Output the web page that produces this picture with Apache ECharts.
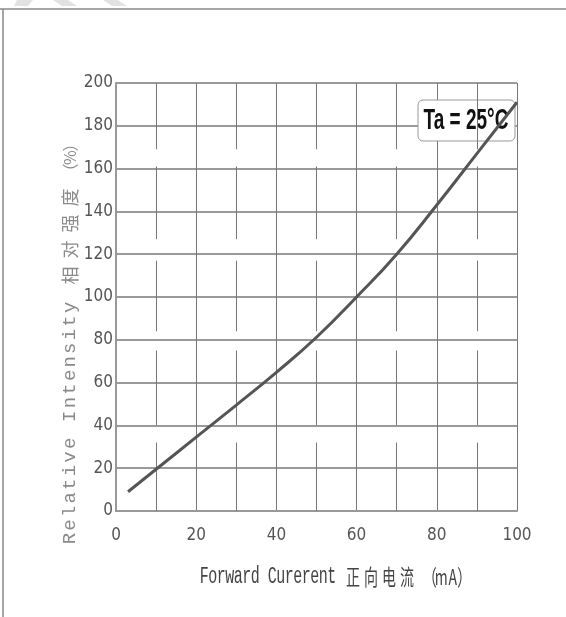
<!DOCTYPE html>
<html>
<head>
<meta charset="utf-8">
<script src="https://cdn.jsdelivr.net/npm/echarts@6/dist/echarts.min.js"></script>
<style>
  html, body { margin: 0; padding: 0; background: #fff; }
  #chart { width: 566px; height: 617px; }
</style>
</head>
<body>
<div id="chart"></div>
<script>
// Forward current (mA) vs. relative luminous intensity (%), Ta = 25°C
const forwardCurrent = [3, 10, 20, 30, 40, 50, 60, 70, 80, 90, 100];
const relativeIntensity = [9, 19.5, 34.5, 49.5, 64.8, 81.2, 100, 120, 143, 167, 191];
const xTicks = [0, 20, 40, 60, 80, 100];
const yTicks = [0, 20, 40, 60, 80, 100, 120, 140, 160, 180, 200];
const minorCurrentLines = [10, 30, 50, 70, 90];
const conditionText = 'Ta = 25°C';
const xTitle = { latin: 'Forward Curerent', cjk: '正向电流', unit: '（mA）' };
const yTitle = { latin: 'Relative Intensity', cjk: '相对强度', unit: '（%）' };

// broken runs of the odd-ten vertical rules (value ranges along the y axis)
const minorRuns = [[200, 169], [161, 127], [117, 84], [75, 40], [32, 0]];

const chart = echarts.init(document.getElementById('chart'), null, { renderer: 'canvas' });

const GRID = { left: 116, right: 49, top: 83, bottom: 106 };
const TICK_FONT = '"DejaVu Sans Condensed", "Liberation Sans Narrow", "Liberation Sans", sans-serif';

function perChar(str, style) {
  return str.split('').map(ch => `{${style}|${ch}}`).join('');
}

const minorSegments = [];
minorCurrentLines.forEach(x => {
  minorRuns.forEach(r => {
    minorSegments.push([{ coord: [x, r[0]] }, { coord: [x, r[1]] }]);
  });
});

const option = {
  animation: false,
  backgroundColor: '#ffffff',
  grid: GRID,
  xAxis: {
    type: 'value',
    min: 0, max: 100, interval: 20,
    axisLine: { show: true, lineStyle: { color: '#999', width: 2 } },
    axisTick: { show: false },
    axisLabel: {
      color: '#555', fontFamily: TICK_FONT,
      fontSize: 17, margin: 16,
      formatter: v => (xTicks.indexOf(v) >= 0 ? String(v) : '')
    },
    splitLine: { show: true, lineStyle: { color: '#777', width: 1 } }
  },
  yAxis: {
    type: 'value',
    min: 0, max: 200, interval: 20,
    axisLine: { show: true, lineStyle: { color: '#999', width: 2 } },
    axisTick: { show: false },
    axisLabel: {
      color: '#555', fontFamily: TICK_FONT,
      fontSize: 17, margin: 3,
      formatter: v => (yTicks.indexOf(v) >= 0 ? String(v) : '')
    },
    splitLine: { show: true, lineStyle: { color: '#9a9a9a', width: 2 } }
  },
  series: [
    {
      type: 'line',
      name: 'minor',
      data: [],
      silent: true,
      z: 1,
      markLine: {
        silent: true,
        symbol: ['none', 'none'],
        label: { show: false },
        lineStyle: { color: '#777', width: 1, type: 'solid' },
        data: minorSegments
      }
    },
    {
      type: 'line',
      name: 'intensity',
      data: forwardCurrent.map((x, i) => [x, relativeIntensity[i]]),
      smooth: 0.5,
      showSymbol: false,
      z: 5,
      lineStyle: { color: '#555', width: 3 }
    }
  ],
  graphic: [
    // page frame
    { type: 'line', shape: { x1: 0, y1: 9, x2: 566, y2: 9 }, style: { stroke: '#888', lineWidth: 1.5 }, silent: true },
    { type: 'line', shape: { x1: 3, y1: 9, x2: 3, y2: 617 }, style: { stroke: '#888', lineWidth: 1.5 }, silent: true },
    { type: 'polygon', shape: { points: [[17, 0], [33, 0], [28, 6], [14, 6]] }, style: { fill: '#e2e2e2' }, silent: true },
    { type: 'polygon', shape: { points: [[53, 0], [68, 0], [77, 6], [62, 6]] }, style: { fill: '#e2e2e2' }, silent: true },
    { type: 'polygon', shape: { points: [[103, 0], [118, 0], [127, 6], [112, 6]] }, style: { fill: '#e2e2e2' }, silent: true },
    // condition box
    {
      type: 'rect', z: 3,
      shape: { x: 418, y: 100, width: 97, height: 41, r: 5 },
      style: { fill: '#fff', stroke: '#999', lineWidth: 1 },
      silent: true
    },
    {
      type: 'text', z: 4,
      x: 466, y: 121, scaleY: 1.55,
      style: {
        text: conditionText,
        fill: '#111',
        font: 'bold 19px "Liberation Sans", Arial, sans-serif',
        textAlign: 'center', textVerticalAlign: 'middle'
      },
      silent: true
    },
    // x axis title
    {
      type: 'text',
      x: 335, y: 577, scaleY: 1.55,
      style: {
        text: perChar(xTitle.latin, 'l') + '{s| }' + perChar(xTitle.cjk, 'c') + '{s| }' + perChar(xTitle.unit, 'u'),
        textAlign: 'center', textVerticalAlign: 'middle',
        rich: {
          l: { fontFamily: 'Liberation Mono, monospace', fontSize: 15, fill: '#444', width: 8.5, align: 'center' },
          s: { fontSize: 14, width: 8 },
          c: { fontFamily: 'Noto Sans CJK SC', fontSize: 14, fill: '#444', width: 18, align: 'center' },
          u: { fontFamily: 'Noto Sans CJK SC', fontSize: 14, fill: '#444', width: 11.5, align: 'center' }
        }
      },
      silent: true
    },
    // y axis title
    {
      type: 'text',
      x: 70, y: 341, rotation: Math.PI / 2,
      style: {
        text: perChar(yTitle.latin, 'l') + '{s| }' + perChar(yTitle.cjk, 'c') + '{s2| }' + perChar(yTitle.unit, 'u'),
        textAlign: 'center', textVerticalAlign: 'middle',
        rich: {
          l: { fontFamily: 'Liberation Mono, monospace', fontSize: 19, fill: '#8a8a8a', width: 13.6, align: 'center' },
          s: { fontSize: 14, width: 12 },
          c: { fontFamily: 'Noto Sans CJK SC', fontSize: 18, fill: '#8a8a8a', width: 26, align: 'center' },
          s2: { fontSize: 14, width: 6 },
          u: { fontFamily: 'Noto Sans CJK SC', fontSize: 16, fill: '#8a8a8a', width: 14, align: 'center' }
        }
      },
      silent: true
    }
  ]
};

chart.setOption(option);
</script>
</body>
</html>
